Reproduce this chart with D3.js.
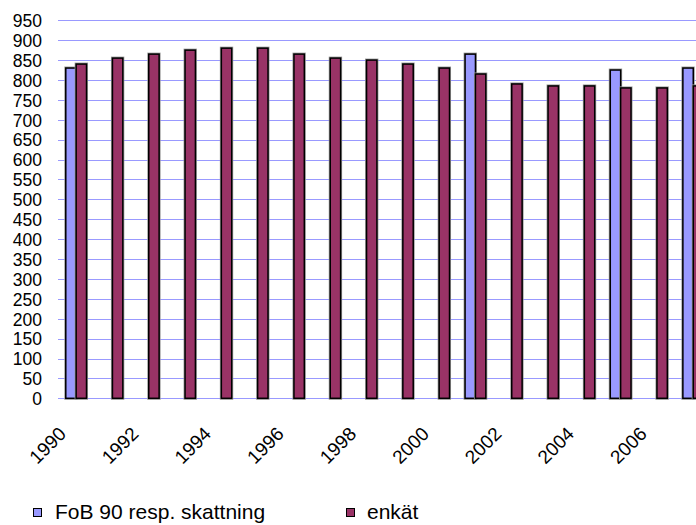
<!DOCTYPE html>
<html>
<head>
<meta charset="utf-8">
<script src="https://cdn.jsdelivr.net/npm/d3@7"></script>
<style>
  html, body { margin: 0; padding: 0; background: #fff; }
  svg { display: block; font-family: "Liberation Sans", Arial, sans-serif; }
</style>
</head>
<body>
<svg id="chart" width="696" height="525"></svg>
<script>
const years = ["1990","1991","1992","1993","1994","1995","1996","1997","1998","1999","2000","2001","2002","2003","2004","2005","2006","2007"];
const fob   = [830, null, null, null, null, null, null, null, null, null, null, 865, null, null, null, 825, null, 830];
const enkat = [840, 855, 865, 875, 880, 880, 865, 855, 850, 840, 830, 815, 790, 785, 785, 780, 780, 785];
const xTickLabels = ["1990","1992","1994","1996","1998","2000","2002","2004","2006"];
const yTicks = d3.range(0, 951, 50);
const seriesNames = ["FoB 90 resp. skattning", "enkät"];
const seriesColors = ["#9999FF", "#993366"];

const svg = d3.select("#chart");
const left = 58, catW = 36.3;
const x = d3.scaleBand().domain(years).range([left, left + catW * years.length]).padding(0);
const y = d3.scaleLinear().domain([0, 950]).range([398.3, 20.3]);
const bw = x.bandwidth() / 3.5;
const xs = d3.scaleBand().domain([0, 1]).range([0, 2 * bw]).padding(0);

// gridlines
svg.append("g").selectAll("line").data(yTicks).join("line")
  .attr("x1", left).attr("x2", 696)
  .attr("y1", d => Math.round(y(d)) + 0.5).attr("y2", d => Math.round(y(d)) + 0.5)
  .attr("stroke", "#9999FF").attr("stroke-width", 1);

// y axis labels
const yAxis = d3.axisLeft(y).tickValues(yTicks).tickSize(0).tickPadding(0);
const gy = svg.append("g").attr("transform", "translate(42,0)").call(yAxis);
gy.select(".domain").remove();
gy.attr("font-size", null).attr("font-family", null);
gy.selectAll("text").attr("font-size", 17.5).attr("fill", "#000").attr("dy", "0.36em");

// bars
const series = [fob, enkat];
series.forEach((vals, si) => {
  const g = svg.append("g");
  const data = years.map((yr, i) => ({ yr, v: vals[i] })).filter(d => d.v != null);
  const bx = d => x(d.yr) + (x.bandwidth() - 2 * bw) / 2 + xs(si);
  g.selectAll("rect.halo").data(data).join("rect").attr("class", "halo")
    .attr("x", bx).attr("y", d => y(d.v)).attr("width", bw).attr("height", d => y(0) - y(d.v))
    .attr("fill", "none").attr("stroke", "#999").attr("stroke-width", 3);
  g.selectAll("rect.bar").data(data).join("rect").attr("class", "bar")
    .attr("x", bx).attr("y", d => y(d.v)).attr("width", bw).attr("height", d => y(0) - y(d.v))
    .attr("fill", seriesColors[si]).attr("stroke", "#000").attr("stroke-width", 1.5);
});

// x axis labels
const xAxis = d3.axisBottom(x).tickValues(xTickLabels).tickSize(0).tickPadding(0);
const gx = svg.append("g").call(xAxis);
gx.select(".domain").remove();
gx.attr("font-size", null).attr("font-family", null);
gx.selectAll(".tick").attr("transform", d => `translate(${x(d) + x.bandwidth() / 2 - 9},435) rotate(-45)`);
gx.selectAll(".tick text").attr("font-size", 19).attr("fill", "#000")
  .attr("text-anchor", "end").attr("x", 0).attr("y", 0).attr("dy", null);

// legend
const legendPos = [{ sx: 33, tx: 55 }, { sx: 346, tx: 367 }];
const lg = svg.append("g");
seriesNames.forEach((name, i) => {
  lg.append("rect").attr("x", legendPos[i].sx + 0.5).attr("y", 508.5).attr("width", 8).attr("height", 8)
    .attr("fill", seriesColors[i]).attr("stroke", "#000").attr("stroke-width", 1);
  lg.append("text").attr("x", legendPos[i].tx).attr("y", 519)
    .attr("font-size", 21).attr("fill", "#000").text(name);
});
</script>
</body>
</html>
